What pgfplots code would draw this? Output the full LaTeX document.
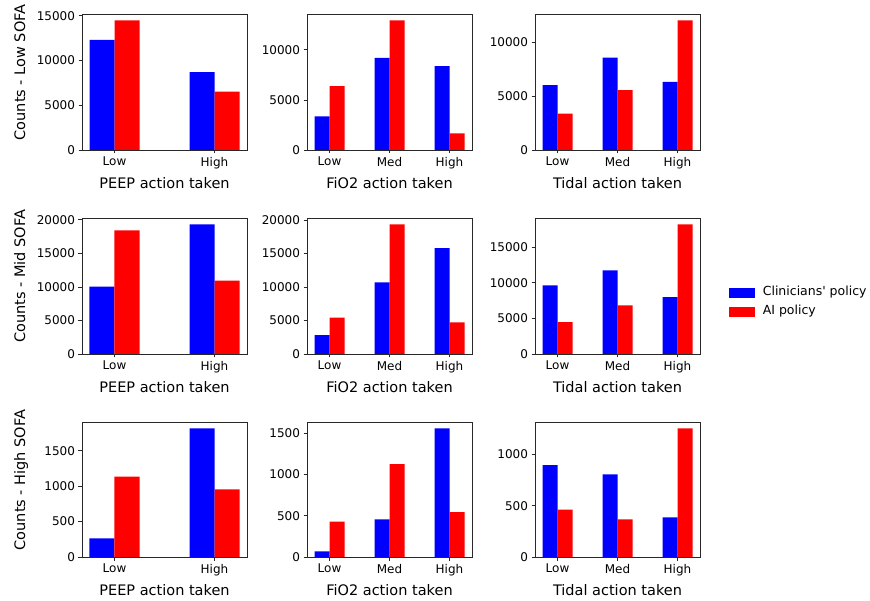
\documentclass[border=0pt]{standalone}
\usepackage{fontspec}
\setmainfont{DejaVu Sans}
\usepackage{pgfplots}
\pgfplotsset{compat=1.18}
\definecolor{mplblue}{RGB}{0,0,255}
\definecolor{mplred}{RGB}{255,0,0}
\definecolor{frame}{RGB}{40,40,40}
\pgfplotsset{
 cell/.style={
  scale only axis, width=165pt, height=136pt, anchor=south west,
  ybar, ymin=0, axis line style={frame, line width=0.8pt},
  tick align=outside, major tick length=3.5pt, tick style={frame, line width=0.8pt},
  xtick pos=bottom, ytick pos=left,
  ticklabel style={font=\fontsize{12}{14}\selectfont},
  yticklabel style={/pgf/number format/1000 sep={}, /pgf/number format/assume math mode=true},
  scaled y ticks=false,
  xlabel style={font=\fontsize{14.5}{17}\selectfont, at={(axis description cs:0.5,0)}, anchor=base, yshift=-38.5pt},
  ylabel style={font=\fontsize{14.5}{17}\selectfont, at={(axis description cs:-0.345,0.57)}, anchor=base, rotate=0},
 },
 two/.style={xmin=-0.325, xmax=1.325, xtick={0,1}, xticklabels={Low,High}, xlabel={PEEP action taken}},
 three/.style={xmin=-0.375, xmax=2.375, xtick={0,1,2}, xticklabels={Low,Med,High}},
 clin/.style={fill=mplblue, draw=none, bar width=0.25, bar shift=-0.125},
 ai/.style={fill=mplred, draw=none, bar width=0.25, bar shift=0.125},
}
\begin{document}
\begin{tikzpicture}
\path[use as bounding box] (0,0) rectangle (870pt,600pt);
% Row 1: Low SOFA
\begin{axis}[cell, two, at={(82pt,450pt)}, ymax=15202, ytick={0,5000,10000,15000}, ylabel={Counts - Low SOFA}]
\addplot[clin] coordinates {(0,12313) (1,8694)};
\addplot[ai] coordinates {(0,14478) (1,6530)};
\end{axis}
\begin{axis}[cell, three, at={(307pt,450pt)}, ymax=13580, ytick={0,5000,10000}, xlabel={FiO2 action taken}]
\addplot[clin] coordinates {(0,3367) (1,9200) (2,8367)};
\addplot[ai] coordinates {(0,6367) (1,12933) (2,1667)};
\end{axis}
\begin{axis}[cell, three, at={(535pt,450pt)}, ymax=12613, ytick={0,5000,10000}, xlabel={Tidal action taken}]
\addplot[clin] coordinates {(0,6006) (1,8576) (2,6316)};
\addplot[ai] coordinates {(0,3375) (1,5542) (2,12012)};
\end{axis}
% Row 2: Mid SOFA
\begin{axis}[cell, two, at={(82pt,246pt)}, ymax=20270, ytick={0,5000,10000,15000,20000}, ylabel={Counts - Mid SOFA}]
\addplot[clin] coordinates {(0,10025) (1,19305)};
\addplot[ai] coordinates {(0,18412) (1,10918)};
\end{axis}
\begin{axis}[cell, three, at={(307pt,246pt)}, ymax=20321, ytick={0,5000,10000,15000,20000}, xlabel={FiO2 action taken}]
\addplot[clin] coordinates {(0,2836) (1,10697) (2,15821)};
\addplot[ai] coordinates {(0,5423) (1,19353) (2,4726)};
\end{axis}
\begin{axis}[cell, three, at={(535pt,246pt)}, ymax=19087, ytick={0,5000,10000,15000}, xlabel={Tidal action taken},
  legend style={draw=none, fill=none, inner sep=0pt, at={(axis description cs:1.177,0.382)}, anchor=west,
    font=\fontsize{12.5}{15}\selectfont, nodes={inner sep=0pt, text height=9pt, text depth=3pt}, row sep=7pt, column sep=8pt},
  legend cell align=left]
\addplot[clin, forget plot] coordinates {(0,9626) (1,11729) (2,7991)};
\addplot[ai, forget plot] coordinates {(0,4486) (1,6822) (2,18178)};
\addlegendimage{legend image code/.code={\fill[mplblue] (0pt,-4.5pt) rectangle (25pt,4.5pt);}}
\addlegendentry{Clinicians\textquotesingle{} policy}
\addlegendimage{legend image code/.code={\fill[mplred] (0pt,-4.5pt) rectangle (25pt,4.5pt);}}
\addlegendentry{AI policy}
\end{axis}
% Row 3: High SOFA
\begin{axis}[cell, two, at={(82pt,43pt)}, height=135pt, ymax=1907, ytick={0,500,1000,1500}, ylabel={Counts - High SOFA}]
\addplot[clin] coordinates {(0,263) (1,1816)};
\addplot[ai] coordinates {(0,1134) (1,955)};
\end{axis}
\begin{axis}[cell, three, at={(307pt,43pt)}, height=135pt, ymax=1634, ytick={0,500,1000,1500}, xlabel={FiO2 action taken}]
\addplot[clin] coordinates {(0,69) (1,456) (2,1556)};
\addplot[ai] coordinates {(0,427) (1,1125) (2,544)};
\end{axis}
\begin{axis}[cell, three, at={(535pt,43pt)}, height=135pt, ymax=1316, ytick={0,500,1000}, xlabel={Tidal action taken}]
\addplot[clin] coordinates {(0,896) (1,805) (2,386)};
\addplot[ai] coordinates {(0,461) (1,367) (2,1253)};
\end{axis}
\end{tikzpicture}
\end{document}
